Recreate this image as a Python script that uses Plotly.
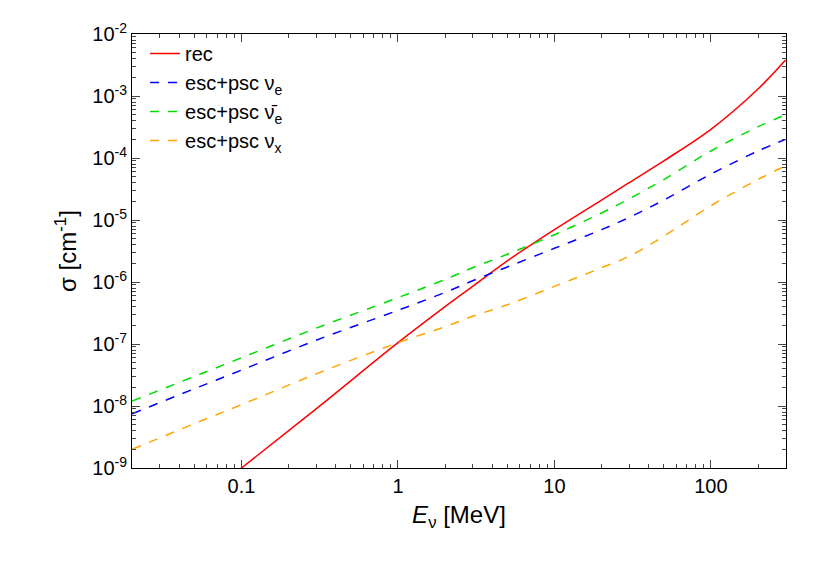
import plotly.graph_objects as go

energy = [0.02, 0.05, 0.1, 0.3, 1, 2, 3, 5, 10, 20, 30, 50, 100, 200, 300]

rec = [4e-11, 2.5e-10, 1e-9, 9e-9, 1.05e-7, 4e-7, 8.5e-7, 2.2e-6, 7e-6, 2.1e-5, 4e-5, 9e-5, 2.9e-4, 1.3e-3, 3.8e-3]
esc_nue = [7.5e-9, 1.9e-8, 3.8e-8, 1.15e-7, 3.5e-7, 6.8e-7, 1.05e-6, 1.75e-6, 3.5e-6, 7e-6, 1.1e-5, 2.1e-5, 5.5e-5, 1.3e-4, 2e-4]
esc_nuebar = [1.2e-8, 3e-8, 6e-8, 1.8e-7, 5.6e-7, 1.1e-6, 1.7e-6, 2.8e-6, 5.8e-6, 1.3e-5, 2.2e-5, 4.5e-5, 1.3e-4, 3.2e-4, 5e-4]
esc_nux = [2e-9, 5.2e-9, 1.05e-8, 3.3e-8, 1.05e-7, 1.9e-7, 2.8e-7, 4.3e-7, 8.5e-7, 1.7e-6, 2.6e-6, 5.5e-6, 1.7e-5, 4.5e-5, 7.5e-5]

fig = go.Figure()
fig.add_trace(go.Scatter(x=energy, y=rec, name="rec", mode="lines", line_shape="spline",
                         line=dict(color="#ff0000", width=1.5)))
fig.add_trace(go.Scatter(x=energy, y=esc_nue, name="esc+psc ν<sub>e</sub>", mode="lines", line_shape="spline",
                         line=dict(color="#0000ff", width=1.5, dash="dash")))
fig.add_trace(go.Scatter(x=energy, y=esc_nuebar, name="esc+psc ν̄<sub>e</sub>", mode="lines", line_shape="spline",
                         line=dict(color="#00dd00", width=1.5, dash="dash")))
fig.add_trace(go.Scatter(x=energy, y=esc_nux, name="esc+psc ν<sub>x</sub>", mode="lines", line_shape="spline",
                         line=dict(color="#ffa500", width=1.5, dash="dash")))

axis_style = dict(type="log", showgrid=False, zeroline=False, showline=True, linecolor="black",
                  linewidth=1, mirror="allticks", ticks="inside", ticklen=8,
                  minor=dict(ticks="inside", ticklen=4, dtick="D1"), tickfont=dict(size=20, color="black"))

fig.update_layout(
    width=830, height=581, paper_bgcolor="white", plot_bgcolor="white",
    font=dict(family="Liberation Sans, Arial", color="black", size=20),
    margin=dict(l=124, r=52, t=17, b=121, pad=0),
    xaxis=dict(axis_style, range=[-1.70, 2.48], tickvals=[0.1, 1, 10, 100],
               ticktext=["0.1", "1", "10", "100"],
               title=dict(text="<i>E</i><sub>ν</sub> [MeV]", standoff=10)),
    yaxis=dict(axis_style, range=[-9, -1.999], tickvals=[1e-9, 1e-8, 1e-7, 1e-6, 1e-5, 1e-4, 1e-3, 1e-2],
               ticktext=["10<sup>-9</sup>", "10<sup>-8</sup>", "10<sup>-7</sup>", "10<sup>-6</sup>",
                         "10<sup>-5</sup>", "10<sup>-4</sup>", "10<sup>-3</sup>", "10<sup>-2</sup>"],
               title=dict(text="σ [cm<sup>-1</sup>]", standoff=8)),
    legend=dict(x=0.02, y=1.0, xanchor="left", yanchor="top", bgcolor="rgba(0,0,0,0)",
                font=dict(size=20), tracegroupgap=0),
    showlegend=True,
)

fig.write_html("out.html")
